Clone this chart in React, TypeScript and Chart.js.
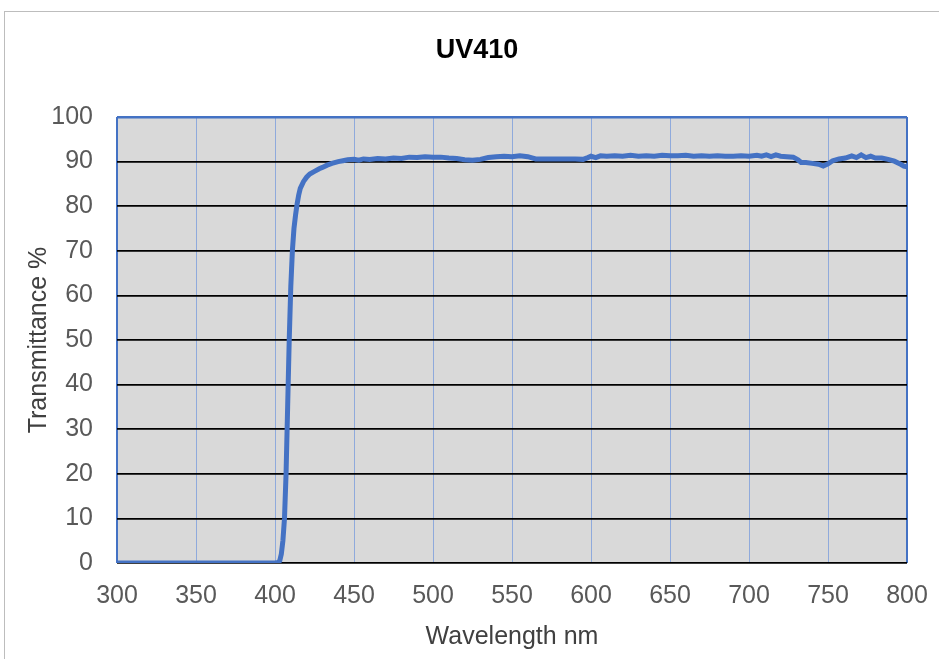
import React, { useEffect, useRef } from "react";
import { Chart, registerables } from "chart.js";

Chart.register(...registerables);

const chartTitle = "UV410";
const xAxisTitle = "Wavelength nm";
const yAxisTitle = "Transmittance %";

const wavelengths = [
  300, 350, 400, 402, 403, 404, 405, 406, 407, 408, 409, 410, 411, 412, 413, 414, 415, 416, 418, 420,
  422, 425, 428, 430, 433, 436, 440, 443, 446, 450, 453, 456, 460, 465, 470, 475, 480, 485, 490, 495,
  500, 505, 510, 515, 520, 525, 530, 535, 540, 545, 550, 555, 560, 565, 570, 575, 580, 585, 590, 595,
  598, 600, 603, 606, 610, 615, 620, 625, 630, 635, 640, 645, 650, 655, 660, 665, 670, 675, 680, 685,
  690, 695, 700, 705, 708, 711, 714, 717, 720, 724, 728, 731, 733, 736, 740, 744, 747, 750, 753, 757,
  761, 765, 768, 771, 774, 777, 780, 784, 788, 792, 796, 798, 800,
];

const transmittance = [
  0, 0, 0, 0.1, 0.5, 2, 5, 10, 20, 35, 50, 62, 70, 75, 78, 80.5, 82.5, 84, 85.5, 86.5,
  87.2, 87.8, 88.4, 88.7, 89.2, 89.6, 90.0, 90.2, 90.4, 90.5, 90.3, 90.6, 90.5, 90.7, 90.6, 90.8, 90.7, 91.0, 90.9, 91.1,
  91.0, 91.0, 90.8, 90.7, 90.4, 90.3, 90.5, 90.9, 91.1, 91.2, 91.1, 91.3, 91.1, 90.6, 90.6, 90.6, 90.6, 90.6, 90.6, 90.5,
  90.9, 91.2, 90.9, 91.3, 91.2, 91.3, 91.2, 91.4, 91.2, 91.3, 91.2, 91.4, 91.3, 91.3, 91.4, 91.2, 91.3, 91.2, 91.3, 91.2,
  91.2, 91.3, 91.2, 91.4, 91.2, 91.5, 91.1, 91.5, 91.2, 91.1, 91.0, 90.4, 89.8, 89.8, 89.6, 89.4, 89.0, 89.5, 90.2, 90.6,
  90.8, 91.3, 90.9, 91.5, 90.9, 91.2, 90.8, 90.8, 90.5, 90.1, 89.4, 89.0, 88.8,
];

const xTicks = [300, 350, 400, 450, 500, 550, 600, 650, 700, 750, 800];
const yTicks = [0, 10, 20, 30, 40, 50, 60, 70, 80, 90, 100];

const FONT = "'Liberation Sans', Arial, sans-serif";
const BLUE = "#4472c4";

const plotBg = {
  id: "plotBg",
  beforeDraw(chart: any) {
    const { ctx, chartArea } = chart;
    ctx.save();
    ctx.fillStyle = "#d9d9d9";
    ctx.fillRect(chartArea.left, chartArea.top, chartArea.right - chartArea.left, chartArea.bottom - chartArea.top);
    ctx.restore();
  },
};

export default function App() {
  const ref = useRef<HTMLCanvasElement | null>(null);

  useEffect(() => {
    if (!ref.current) return;
    const points = wavelengths.map((w, i) => ({ x: w, y: transmittance[i] }));
    const chart = new Chart(ref.current, {
      type: "line",
      data: {
        datasets: [
          {
            data: points,
            borderColor: BLUE,
            borderWidth: 5,
            pointRadius: 0,
            tension: 0,
            fill: false,
          },
        ],
      },
      plugins: [plotBg],
      options: {
        animation: false,
        responsive: false,
        devicePixelRatio: 1,
        layout: { padding: { left: 15, right: 0, top: 0, bottom: 0 } },
        plugins: {
          legend: { display: false },
          tooltip: { enabled: false },
          title: {
            display: true,
            text: chartTitle,
            color: "#000000",
            font: { family: FONT, size: 27, weight: "bold" },
            padding: { top: 34, bottom: 50.6 },
          },
        },
        scales: {
          x: {
            type: "linear",
            min: 300,
            max: 800,
            afterBuildTicks: (s: any) => {
              s.ticks = xTicks.map((v) => ({ value: v }));
            },
            afterFit: (s: any) => {
              s.height = 96;
              s.paddingLeft = 0;
              s.paddingRight = 32;
            },
            border: { display: false },
            grid: {
              drawTicks: false,
              color: (c: any) => (c.tick && (c.tick.value === 300 || c.tick.value === 800) ? BLUE : "#8faadc"),
              lineWidth: (c: any) => (c.tick && (c.tick.value === 300 || c.tick.value === 800) ? 2 : 1),
            },
            ticks: {
              padding: 18,
              color: "#595959",
              font: { family: FONT, size: 25 },
              maxRotation: 0,
              autoSkip: false,
            },
            title: {
              display: true,
              text: xAxisTitle,
              color: "#404040",
              font: { family: FONT, size: 25 },
              padding: { top: 0, bottom: 7 },
            },
          },
          y: {
            min: 0,
            max: 100,
            afterBuildTicks: (s: any) => {
              s.ticks = yTicks.map((v) => ({ value: v }));
            },
            afterFit: (s: any) => {
              s.width = 102;
              s.paddingTop = 0;
              s.paddingBottom = 0;
            },
            border: { display: false },
            grid: {
              drawTicks: false,
              color: (c: any) => (c.tick && c.tick.value === 100 ? BLUE : "#000000"),
              lineWidth: (c: any) => (c.tick && c.tick.value === 100 ? 2.5 : 1.8),
            },
            ticks: {
              padding: 24,
              color: "#595959",
              font: { family: FONT, size: 25 },
              autoSkip: false,
            },
            title: {
              display: true,
              text: yAxisTitle,
              color: "#404040",
              font: { family: FONT, size: 25 },
              padding: { top: 9, bottom: 0 },
            },
          },
        },
      },
    } as any);
    return () => chart.destroy();
  }, []);

  return (
    <div
      style={{
        position: "fixed",
        left: 0,
        top: 0,
        width: 939,
        height: 659,
        overflow: "hidden",
        background: "#ffffff",
      }}
    >
      <div
        style={{
          position: "absolute",
          left: 4,
          top: 11,
          width: 1000,
          height: 1000,
          border: "1px solid #bdbdbd",
          boxSizing: "border-box",
        }}
      />
      <canvas
        ref={ref}
        width={939}
        height={659}
        style={{ position: "absolute", left: 0, top: 0, width: 939, height: 659 }}
      />
    </div>
  );
}
